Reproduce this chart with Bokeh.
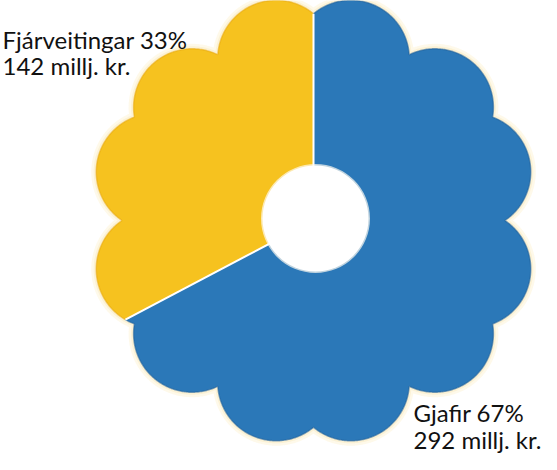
import numpy as np
from bokeh.plotting import figure
from bokeh.models import Range1d, ColumnDataSource
from bokeh.core.properties import value
from bokeh.embed import file_html
from bokeh.resources import INLINE

# ---- data ----
labels = ["Fjárveitingar", "Gjafir"]
amounts = [142, 292]          # millj. kr.
percents = [33, 67]
colors = ["#f6c21f", "#2b78b8"]
rim_colors = ["#e8a80f", "#1f5f99"]

# ---- geometry (pixels, 1 data unit = 1 px) ----
W, H = 541, 454
CX, CY = 313, 234          # flower centre
HX, HY = 315, 236          # hole centre
HOLE_R = 53
PET_D, PET_R, PET_PHI = 166.0, 58.5, 13.0

pet_angles = []
for k in range(6):
    base = 30 + 60 * k
    pet_angles += [np.radians(base - PET_PHI), np.radians(base + PET_PHI)]
pet_angles = np.array(pet_angles)


def outer_r(theta):
    d = theta - pet_angles
    disc = PET_R ** 2 - (PET_D * np.sin(d)) ** 2
    t = np.where(disc >= 0, PET_D * np.cos(d) + np.sqrt(np.clip(disc, 0, None)), 0)
    return t.max()


total = sum(amounts)
start = 90.0
bounds = []
a = start
for v in amounts:
    b = a + 360.0 * v / total
    bounds.append((a, b))
    a = b

p = figure(width=W, height=H, output_backend="svg", toolbar_location=None,
           x_range=Range1d(0, W), y_range=Range1d(0, H), min_border=0)
p.axis.visible = False
p.grid.visible = False
p.outline_line_color = None
p.background_fill_color = "white"
p.border_fill_color = "white"

# glow outline of whole flower
th_all = np.radians(np.arange(0, 360.25, 0.25))
rr_all = np.array([outer_r(t) for t in th_all])
gx = CX + rr_all * np.cos(th_all)
gy = CY + rr_all * np.sin(th_all)
p.line(gx, gy, line_color="#fbefc4", line_width=10, line_alpha=0.35)
p.line(gx, gy, line_color="#f9ecc0", line_width=5, line_alpha=0.5)

xs, ys, rxs, rys = [], [], [], []
for (a0, a1) in bounds:
    th = np.radians(np.linspace(a0, a1, int((a1 - a0) * 4) + 2))
    rr = np.array([outer_r(t) for t in th])
    ox = CX + rr * np.cos(th)
    oy = CY + rr * np.sin(th)
    xs.append([CX] + list(ox))
    ys.append([CY] + list(oy))
    rxs.append(list(ox))
    rys.append(list(oy))

src = ColumnDataSource(dict(xs=xs, ys=ys, color=colors))
p.patches("xs", "ys", source=src, fill_color="color", line_color=None)
p.multi_line(rxs, rys, line_color=rim_colors, line_width=1.5, line_alpha=0.55)

# white separators
for (a0, a1) in bounds:
    t = np.radians(a0)
    r = outer_r(t)
    p.segment(x0=[CX], y0=[CY], x1=[CX + r * np.cos(t)], y1=[CY + r * np.sin(t)],
              line_color="white", line_width=2)

# hole
p.circle(x=[HX], y=[HY], radius=HOLE_R + 1.5, fill_color="#fffaf0", line_color=None, fill_alpha=0.7)
p.circle(x=[HX], y=[HY], radius=HOLE_R, fill_color="white", line_color=None)

# labels
line1 = [f"{labels[i]} {percents[i]}%" for i in range(2)]
line2 = [f"{amounts[i]} millj. kr." for i in range(2)]
lx = [2, 413]
ly1 = [415.5, 42]
ly2 = [389.5, 15]
p.text(x=lx, y=ly1, text=line1, text_font=value("Lato"), text_font_size="24px",
       text_color="#111111", text_baseline="middle", text_align="left")
p.text(x=lx, y=ly2, text=line2, text_font=value("Lato"), text_font_size="24px",
       text_color="#111111", text_baseline="middle", text_align="left")

open("out.html", "w").write(file_html(p, INLINE))
